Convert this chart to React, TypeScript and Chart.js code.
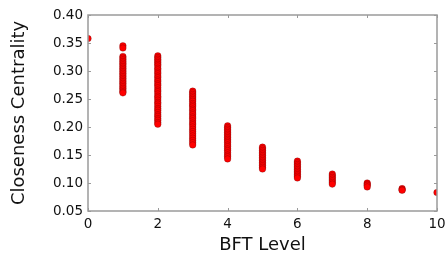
import React, { useEffect, useRef } from "react";
import { Chart, registerables } from "chart.js";

Chart.register(...registerables);

const xTicks = [0, 2, 4, 6, 8, 10];
const yTicks = [0.05, 0.1, 0.15, 0.2, 0.25, 0.3, 0.35, 0.4];

const level0 = [0.358];
const level1 = [0.345, 0.341, 0.326, 0.323, 0.32, 0.317, 0.314, 0.311, 0.308, 0.305, 0.302, 0.299, 0.296, 0.293, 0.29, 0.287, 0.284, 0.281, 0.278, 0.275, 0.272, 0.269, 0.266, 0.263, 0.261];
const level2 = [0.327, 0.324, 0.321, 0.318, 0.315, 0.312, 0.309, 0.305, 0.302, 0.298, 0.295, 0.291, 0.288, 0.284, 0.281, 0.277, 0.274, 0.27, 0.266, 0.263, 0.259, 0.255, 0.252, 0.248, 0.244, 0.241, 0.237, 0.233, 0.23, 0.226, 0.222, 0.219, 0.215, 0.212, 0.208, 0.205];
const level3 = [0.264, 0.261, 0.258, 0.255, 0.252, 0.249, 0.246, 0.242, 0.239, 0.236, 0.232, 0.229, 0.225, 0.222, 0.218, 0.215, 0.211, 0.207, 0.204, 0.2, 0.196, 0.192, 0.188, 0.184, 0.18, 0.176, 0.172, 0.168];
const level4 = [0.202, 0.199, 0.196, 0.193, 0.19, 0.187, 0.184, 0.181, 0.178, 0.175, 0.172, 0.168, 0.165, 0.161, 0.158, 0.154, 0.15, 0.147, 0.143];
const level5 = [0.164, 0.161, 0.158, 0.155, 0.152, 0.149, 0.146, 0.143, 0.14, 0.137, 0.134, 0.131, 0.128, 0.125];
const level6 = [0.139, 0.136, 0.133, 0.13, 0.127, 0.124, 0.121, 0.118, 0.115, 0.112, 0.109];
const level7 = [0.116, 0.113, 0.11, 0.107, 0.104, 0.101, 0.098];
const level8 = [0.1, 0.098, 0.096, 0.093];
const level9 = [0.09, 0.088, 0.087];
const level10 = [0.083];

const levels = [level0, level1, level2, level3, level4, level5, level6, level7, level8, level9, level10];

const FONT = "'DejaVu Sans', sans-serif";
const SPINE = "#9a9a9a";

const spinePlugin = {
  id: "spines",
  afterDatasetsDraw(chart: any) {
    const { ctx, chartArea } = chart;
    const { left, right, top, bottom } = chartArea;
    const xs = chart.scales.x;
    const ys = chart.scales.y;
    ctx.save();
    ctx.strokeStyle = SPINE;
    ctx.lineWidth = 1;
    const t = 3;
    ctx.beginPath();
    xTicks.forEach((v) => {
      const px = Math.round(xs.getPixelForValue(v)) + 0.5;
      ctx.moveTo(px, bottom);
      ctx.lineTo(px, bottom - t);
      ctx.moveTo(px, top);
      ctx.lineTo(px, top + t);
    });
    yTicks.forEach((v) => {
      const py = Math.round(ys.getPixelForValue(v)) + 0.5;
      ctx.moveTo(left, py);
      ctx.lineTo(left + t, py);
      ctx.moveTo(right, py);
      ctx.lineTo(right - t, py);
    });
    ctx.stroke();
    ctx.lineWidth = 1.5;
    ctx.strokeRect(left, top, right - left, bottom - top);
    ctx.restore();
  },
};

export default function App() {
  const ref = useRef<HTMLCanvasElement | null>(null);
  useEffect(() => {
    const data: { x: number; y: number }[] = [];
    levels.forEach((arr, i) => arr.forEach((y) => data.push({ x: i, y })));
    const chart = new Chart(ref.current as HTMLCanvasElement, {
      type: "scatter",
      data: {
        datasets: [
          {
            data,
            backgroundColor: "#ff0000",
            borderColor: "rgba(70,0,0,0.45)",
            borderWidth: 0.6,
            pointRadius: 3.3,
            clip: 0,
          } as any,
        ],
      },
      options: {
        animation: false,
        responsive: false,
        devicePixelRatio: 1,
        layout: { padding: { left: 0, right: 10, top: 15, bottom: 0 } },
        plugins: { legend: { display: false }, tooltip: { enabled: false } },
        scales: {
          x: {
            type: "linear",
            min: 0,
            max: 10,
            afterBuildTicks: (s: any) => {
              s.ticks = xTicks.map((v) => ({ value: v }));
            },
            afterFit: (s: any) => {
              s.height = 50;
              s.paddingLeft = 0;
              s.paddingRight = 0;
            },
            grid: { display: false, drawTicks: false },
            border: { display: false },
            ticks: {
              padding: 5,
              maxRotation: 0,
              color: "#111",
              font: { family: FONT, size: 13.5 },
              callback: (v: any) => String(v),
            },
            title: {
              display: true,
              text: "BFT Level",
              color: "#111",
              font: { family: FONT, size: 18 },
              padding: { top: 0, bottom: 5 },
            },
          },
          y: {
            type: "linear",
            min: 0.05,
            max: 0.4,
            afterBuildTicks: (s: any) => {
              s.ticks = yTicks.map((v) => ({ value: v }));
            },
            afterFit: (s: any) => {
              s.width = 88;
              s.paddingTop = 0;
              s.paddingBottom = 0;
            },
            grid: { display: false, drawTicks: false },
            border: { display: false },
            ticks: {
              padding: 5,
              color: "#111",
              font: { family: FONT, size: 13.5 },
              callback: (v: any) => Number(v).toFixed(2),
            },
            title: {
              display: true,
              text: "Closeness Centrality",
              color: "#111",
              font: { family: FONT, size: 18 },
              padding: { top: 9, bottom: 0 },
            },
          },
        },
      },
      plugins: [spinePlugin],
    });
    return () => chart.destroy();
  }, []);
  return (
    <div style={{ position: "fixed", left: 0, top: 0, width: 447, height: 261, background: "#fff" }}>
      <canvas ref={ref} width={447} height={261} style={{ width: 447, height: 261 }} />
    </div>
  );
}
